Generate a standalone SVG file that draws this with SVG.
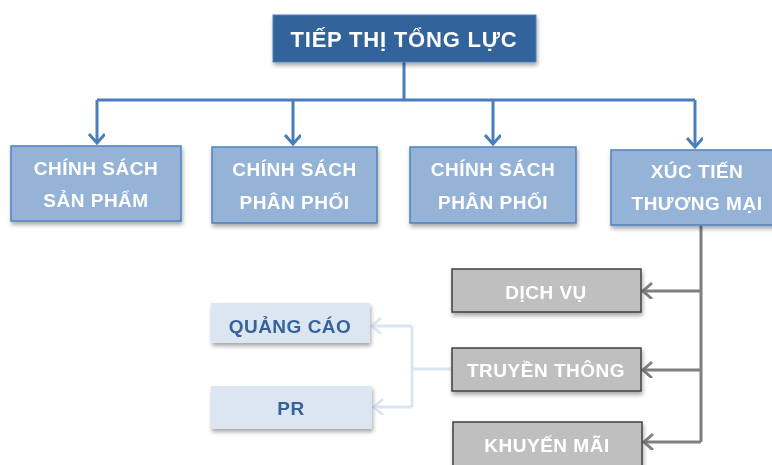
<svg xmlns="http://www.w3.org/2000/svg" width="772" height="465" viewBox="0 0 772 465">
<defs>
<filter id="sh" x="-10%" y="-10%" width="130%" height="140%">
<feGaussianBlur in="SourceAlpha" stdDeviation="2"/>
<feOffset dx="1" dy="3" result="b"/>
<feComponentTransfer><feFuncA type="linear" slope="0.35"/></feComponentTransfer>
<feMerge><feMergeNode/><feMergeNode in="SourceGraphic"/></feMerge>
</filter>
<marker id="ab" markerUnits="userSpaceOnUse" markerWidth="20" markerHeight="20" refX="11" refY="8" orient="auto" viewBox="0 0 20 20">
<polyline points="2,0 11,8 2,16" fill="none" stroke="#4A7EBB" stroke-width="3"/>
</marker>
<marker id="ag" markerUnits="userSpaceOnUse" markerWidth="20" markerHeight="20" refX="11" refY="8" orient="auto" viewBox="0 0 20 20">
<polyline points="2,0 11,8 2,16" fill="none" stroke="#7F7F7F" stroke-width="3"/>
</marker>
<marker id="al" markerUnits="userSpaceOnUse" markerWidth="20" markerHeight="20" refX="11" refY="8" orient="auto" viewBox="0 0 20 20">
<polyline points="2,0 11,8 2,16" fill="none" stroke="#DCE6F2" stroke-width="3"/>
</marker>
</defs>
<style>
text{font-family:"Liberation Sans",Arial,sans-serif;font-weight:bold;text-anchor:middle;letter-spacing:0.5px}
.top rect{fill:#33639B;stroke:#4F81BD;stroke-width:1}
.top text{fill:#fff;font-size:22px;letter-spacing:0.8px}
.l2 rect{fill:#95B3D7;stroke:#4F81BD;stroke-width:1.5}
.l2 text{fill:#fff;font-size:19px}
.gr rect{fill:#BFBFBF;stroke:#404040;stroke-width:1.5}
.gr text{fill:#fff;font-size:19px}
.lt rect{fill:#DCE6F2;stroke:none}
.lt text{fill:#35639A;font-size:19px}
.cb{fill:none;stroke:#4A7EBB;stroke-width:3}
.cg{fill:none;stroke:#7F7F7F;stroke-width:3}
.cl{fill:none;stroke:#DCE6F2;stroke-width:3}
</style>
<g id="connectors">
<path class="cb" d="M404,62 V100"/>
<path class="cb" d="M97,100 H695"/>
<path class="cb" d="M97,100 V143" marker-end="url(#ab)"/>
<path class="cb" d="M293,100 V144" marker-end="url(#ab)"/>
<path class="cb" d="M493,100 V144" marker-end="url(#ab)"/>
<path class="cb" d="M695,100 V147" marker-end="url(#ab)"/>
<path class="cg" d="M701,226 V442"/>
<path class="cg" d="M701,291 H643" marker-end="url(#ag)"/>
<path class="cg" d="M701,370 H643" marker-end="url(#ag)"/>
<path class="cg" d="M701,442 H644" marker-end="url(#ag)"/>
<path class="cl" d="M452,369 H412"/>
<path class="cl" d="M412,326 V407"/>
<path class="cl" d="M412,326 H372" marker-end="url(#al)"/>
<path class="cl" d="M412,407 H374" marker-end="url(#al)"/>
</g>
<g id="tiep-thi" class="top" filter="url(#sh)">
<rect x="273" y="15" width="263" height="47"/>
<text x="404" y="47">TIẾP THỊ TỔNG LỰC</text>
</g>
<g id="san-pham" class="l2" filter="url(#sh)">
<rect x="11" y="146" width="170" height="75"/>
<text x="96" y="175">CHÍNH SÁCH</text>
<text x="96" y="207">SẢN PHẨM</text>
</g>
<g id="phan-phoi-1" class="l2" filter="url(#sh)">
<rect x="212" y="147" width="165" height="76"/>
<text x="294.5" y="176">CHÍNH SÁCH</text>
<text x="294.5" y="209">PHÂN PHỐI</text>
</g>
<g id="phan-phoi-2" class="l2" filter="url(#sh)">
<rect x="410" y="147" width="166" height="76"/>
<text x="493" y="176">CHÍNH SÁCH</text>
<text x="493" y="209">PHÂN PHỐI</text>
</g>
<g id="xuc-tien" class="l2" filter="url(#sh)">
<rect x="611" y="150" width="173" height="75"/>
<text x="697" y="178">XÚC TIẾN</text>
<text x="697" y="210">THƯƠNG MẠI</text>
</g>
<g id="dich-vu" class="gr" filter="url(#sh)">
<rect x="452" y="269" width="189" height="43"/>
<text x="546" y="299">DỊCH VỤ</text>
</g>
<g id="truyen-thong" class="gr" filter="url(#sh)">
<rect x="452" y="348" width="189" height="43"/>
<text x="546" y="377">TRUYỀN THÔNG</text>
</g>
<g id="khuyen-mai" class="gr" filter="url(#sh)">
<rect x="453" y="422" width="189" height="50"/>
<text x="547" y="452">KHUYẾN MÃI</text>
</g>
<g id="quang-cao" class="lt" filter="url(#sh)">
<rect x="211" y="303" width="159" height="40"/>
<text x="290" y="333">QUẢNG CÁO</text>
</g>
<g id="pr" class="lt" filter="url(#sh)">
<rect x="211" y="386" width="161" height="43"/>
<text x="291" y="415">PR</text>
</g>
</svg>
